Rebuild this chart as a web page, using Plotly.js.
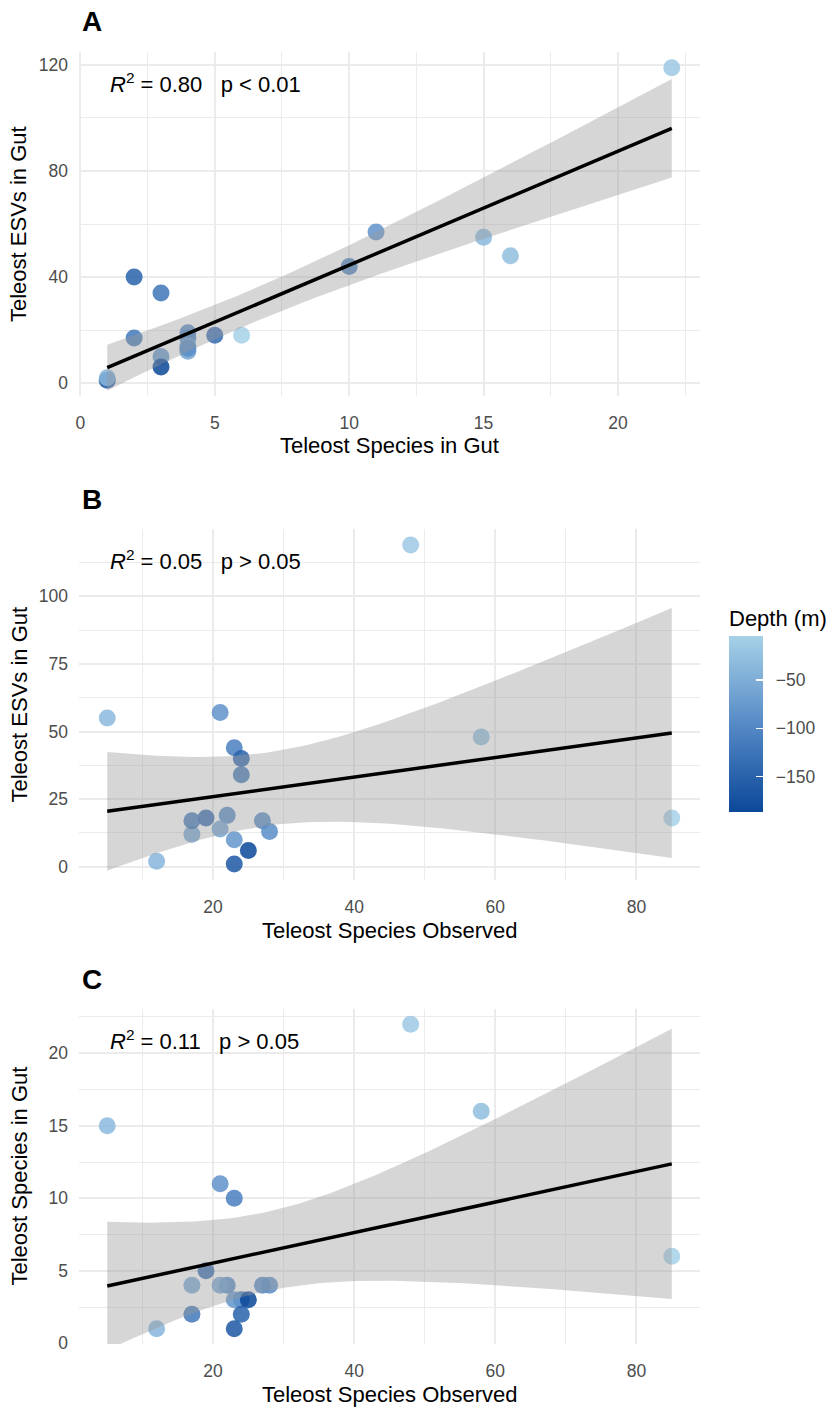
<!DOCTYPE html>
<html>
<head>
<meta charset="utf-8">
<script src="https://cdn.plot.ly/plotly-3.0.1.min.js"></script>
<style>
  html, body { margin: 0; padding: 0; background: #ffffff; }
  #chart { width: 833px; height: 1418px; }
</style>
</head>
<body>
<div id="chart"></div>
<script>
// One row per sampled fish gut
const sppGut = [22, 15, 16, 6, 11, 10, 5, 4, 4, 4, 4, 4, 3, 3, 3, 2, 2, 1, 1];
const esvGut = [119, 55, 48, 18, 57, 44, 18, 19, 17, 14, 12, 13, 34, 10, 6, 40, 17, 1, 2];
const sppObs = [48, 5, 58, 85, 21, 23, 19, 22, 27, 21, 17, 28, 24, 23, 25, 24, 17, 23, 12];
const depth  = [-15, -35, -28, -4, -85, -110, -140, -95, -95, -60, -60, -90, -125, -80, -187, -150, -120, -165, -40];

// Panel letters and fit statistics
const panelTags = ['A', 'B', 'C'];
const r2Text = ['0.80', '0.05', '0.11'];
const pText = ['p &lt; 0.01', 'p &gt; 0.05', 'p &gt; 0.05'];
const xTitles = ['Teleost Species in Gut', 'Teleost Species Observed', 'Teleost Species Observed'];
const yTitles = ['Teleost ESVs in Gut', 'Teleost ESVs in Gut', 'Teleost Species in Gut'];
const depthTicks = [-50, -100, -150];

// Student t 97.5% quantile for n - 2 = 17 degrees of freedom
const T975 = 2.1098;

function lmBand(x, y, nGrid) {
  const n = x.length;
  const mx = x.reduce((a, b) => a + b, 0) / n;
  const my = y.reduce((a, b) => a + b, 0) / n;
  let sxx = 0, sxy = 0, syy = 0;
  for (let i = 0; i < n; i++) {
    sxx += (x[i] - mx) ** 2;
    sxy += (x[i] - mx) * (y[i] - my);
    syy += (y[i] - my) ** 2;
  }
  const b = sxy / sxx, a = my - b * mx;
  const s = Math.sqrt((syy - b * sxy) / (n - 2));
  const lo = Math.min(...x), hi = Math.max(...x);
  const gx = [], fit = [], up = [], dn = [];
  for (let k = 0; k < nGrid; k++) {
    const xv = lo + (hi - lo) * k / (nGrid - 1);
    const yv = a + b * xv;
    const se = s * Math.sqrt(1 / n + (xv - mx) ** 2 / sxx);
    gx.push(xv); fit.push(yv); up.push(yv + T975 * se); dn.push(yv - T975 * se);
  }
  return { gx, fit, up, dn };
}

function expanded(v) {
  const lo = Math.min(...v), hi = Math.max(...v), pad = (hi - lo) * 0.05;
  return [lo - pad, hi + pad];
}

const panels = [
  { x: sppGut, y: esvGut, xa: 'x',  ya: 'y'  },
  { x: sppObs, y: esvGut, xa: 'x2', ya: 'y2' },
  { x: sppObs, y: sppGut, xa: 'x3', ya: 'y3' }
];

const W = 833, H = 1418;
const FONT = 'Liberation Sans, Arial, sans-serif';
const px = v => v / W;
const py = v => 1 - v / H;

// pixel boxes of each panel: [top, bottom]
const boxes = [[52, 396], [529, 880], [1009, 1344]];
const xPix = [79, 700];

const traces = [];
panels.forEach((p, i) => {
  const band = lmBand(p.x, p.y, 80);
  traces.push({
    type: 'scatter', mode: 'markers', x: p.x, y: p.y, xaxis: p.xa, yaxis: p.ya,
    marker: { color: depth, coloraxis: 'coloraxis', size: 17, opacity: 0.85, line: { width: 0 } },
    showlegend: false, hoverinfo: 'x+y'
  });
  traces.push({
    type: 'scatter', mode: 'lines', xaxis: p.xa, yaxis: p.ya,
    x: band.gx.concat(band.gx.slice().reverse()),
    y: band.up.concat(band.dn.slice().reverse()),
    fill: 'toself', fillcolor: 'rgba(153,153,153,0.4)', line: { width: 0 },
    showlegend: false, hoverinfo: 'skip'
  });
  traces.push({
    type: 'scatter', mode: 'lines', xaxis: p.xa, yaxis: p.ya,
    x: band.gx, y: band.fit, line: { color: '#000000', width: 3.5 },
    showlegend: false, hoverinfo: 'skip'
  });
});

const gridCol = '#ebebeb';
function xAxis(i, vals, dtick, minorDtick) {
  return {
    domain: [px(xPix[0]), px(xPix[1])], anchor: ['y', 'y2', 'y3'][i],
    range: expanded(vals), tick0: 0, dtick: dtick,
    showgrid: true, gridcolor: gridCol, gridwidth: 2, zeroline: false, showline: false,
    ticks: '', ticklabelstandoff: 14,
    tickfont: { family: FONT, size: 17.5, color: '#4d4d4d' },
    minor: { dtick: minorDtick, tick0: 0, showgrid: true, gridcolor: gridCol, gridwidth: 1 }
  };
}
function yAxis(i, vals, dtick, minorDtick) {
  const b = boxes[i];
  return {
    domain: [py(b[1]), py(b[0])], anchor: ['x', 'x2', 'x3'][i],
    range: expanded(vals), tick0: 0, dtick: dtick,
    showgrid: true, gridcolor: gridCol, gridwidth: 2, zeroline: false, showline: false,
    ticks: '', ticklabelstandoff: 10,
    tickfont: { family: FONT, size: 17.5, color: '#4d4d4d' },
    minor: { dtick: minorDtick, tick0: 0, showgrid: true, gridcolor: gridCol, gridwidth: 1 }
  };
}

const annotations = [];
panels.forEach((p, i) => {
  const b = boxes[i];
  annotations.push({
    xref: 'paper', yref: 'paper', x: px(80), y: py(b[0] - 30), xanchor: 'left', yanchor: 'middle',
    text: '<b>' + panelTags[i] + '</b>', showarrow: false,
    font: { family: FONT, size: 28, color: '#000000' }
  });
  annotations.push({
    xref: 'paper', yref: 'paper', x: px(108), y: py(b[0] + 31), xanchor: 'left', yanchor: 'middle',
    text: '<i>R</i><sup>2</sup> = ' + r2Text[i] + '   ' + pText[i], showarrow: false,
    font: { family: FONT, size: 22, color: '#000000' }
  });
  annotations.push({
    xref: 'paper', yref: 'paper', x: px((xPix[0] + xPix[1]) / 2), y: py(b[1] + 50),
    xanchor: 'center', yanchor: 'middle', text: xTitles[i], showarrow: false,
    font: { family: FONT, size: 22, color: '#000000' }
  });
  annotations.push({
    xref: 'paper', yref: 'paper', x: px(19), y: py((b[0] + b[1]) / 2),
    xanchor: 'center', yanchor: 'middle', textangle: -90, text: yTitles[i], showarrow: false,
    font: { family: FONT, size: 22, color: '#000000' }
  });
});

const layout = {
  width: W, height: H,
  margin: { l: 0, r: 0, t: 0, b: 0 },
  paper_bgcolor: '#ffffff', plot_bgcolor: '#ffffff',
  font: { family: FONT },
  xaxis:  xAxis(0, sppGut, 5, 2.5),
  yaxis:  yAxis(0, esvGut, 40, 20),
  xaxis2: xAxis(1, sppObs, 20, 10),
  yaxis2: yAxis(1, esvGut, 25, 12.5),
  xaxis3: xAxis(2, sppObs, 20, 10),
  yaxis3: yAxis(2, sppGut, 5, 2.5),
  coloraxis: {
    cmin: Math.min(...depth), cmax: Math.max(...depth),
    colorscale: [[0, '#0b4899'], [0.5, '#568ac6'], [1, '#a6d1e7']],
    colorbar: {
      x: px(729), xanchor: 'left', xpad: 0, ypad: 0,
      y: py(812), yanchor: 'bottom', len: 206 / H, lenmode: 'fraction',
      thickness: 34, thicknessmode: 'pixels', outlinewidth: 0,
      tickvals: depthTicks, ticktext: depthTicks.map(v => '\u2002\u2212' + Math.abs(v)),
      ticks: 'inside', ticklen: 7, tickcolor: '#ffffff', tickwidth: 1.5,
      tickfont: { family: FONT, size: 17.5, color: '#4d4d4d' },
      title: { text: 'Depth (m)', side: 'top', font: { family: FONT, size: 22, color: '#000000' } }
    }
  },
  annotations: annotations
};

Plotly.newPlot('chart', traces, layout, { displayModeBar: false, staticPlot: true });
</script>
</body>
</html>
